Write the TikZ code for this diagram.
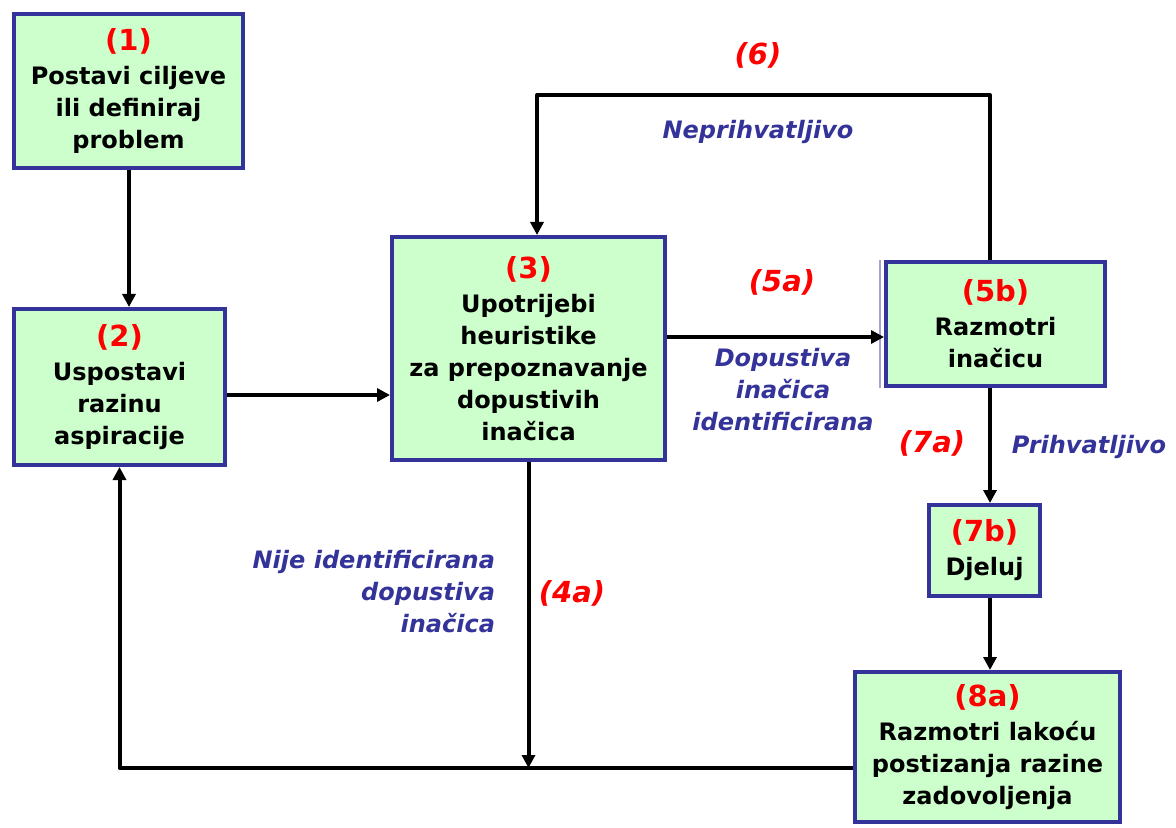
\documentclass[tikz,border=0pt]{standalone}
\usepackage{fontspec}
\setmainfont{DejaVu Sans}
\usetikzlibrary{arrows.meta,positioning,calc}
\definecolor{boxblue}{RGB}{51,51,153}
\definecolor{boxgreen}{RGB}{204,255,204}
\definecolor{numred}{RGB}{255,0,0}
\tikzset{
    flow/.style={-{Triangle[length=6.5pt, width=6.5pt]}, line width=2pt, line join=round},
    stepbox/.style={draw=boxblue, fill=boxgreen, line width=2pt, align=center, inner sep=0pt, font=\bfseries\fontsize{12}{16}\selectfont},
    edgelabel/.style={text=boxblue, align=center, font=\bfseries\itshape\fontsize{12}{16}\selectfont},
    numlabel/.style={text=numred, font=\bfseries\itshape\fontsize{14.5}{17}\selectfont}
}
\newcommand{\stepno}[1]{{\fontsize{14.5}{17}\selectfont\color{numred}#1}}

\begin{document}
\begin{tikzpicture}[x=0.5pt, y=-0.5pt]
    \useasboundingbox (0,0) rectangle (1176,828);

    \node[stepbox, minimum width=114.5pt, minimum height=77pt] (p1) at (128.5,91) {\stepno{(1)}\\[1pt] Postavi ciljeve\\ ili definiraj\\ problem};
    \node[stepbox, minimum width=105.5pt, minimum height=78pt] (p2) at (119.5,387) {\stepno{(2)}\\[1pt] Uspostavi\\ razinu\\ aspiracije};
    \node[stepbox, minimum width=136.5pt, minimum height=111.5pt] (p3) at (528.5,348.5) {\stepno{(3)}\\[1pt] Upotrijebi\\ heuristike\\ za prepoznavanje\\ dopustivih\\ inačica};
    \node[stepbox, minimum width=109.5pt, minimum height=62pt] (p5b) at (995.5,324) {\stepno{(5b)}\\[1pt] Razmotri\\ inačicu};
    \node[stepbox, minimum width=55.5pt, minimum height=45.5pt] (p7b) at (984.5,550.5) {\stepno{(7b)}\\[1pt] Djeluj};
    \node[stepbox, minimum width=132.5pt, minimum height=75pt] (p8a) at (987.5,747) {\stepno{(8a)}\\[1pt] Razmotri lakoću\\ postizanja razine\\ zadovoljenja};
    \draw[boxblue!45, line width=0.8pt] ([xshift=-2pt]p5b.north west) -- ([xshift=-2pt]p5b.south west);

    \node[numlabel] (l6) at (758,55) {(6)};
    \node[edgelabel] (lnep) at (758,132) {Neprihvatljivo};
    \node[numlabel] (l5a) at (782,282) {(5a)};
    \node[edgelabel] (ldop) at (783,390) {Dopustiva\\ inačica\\ identificirana};
    \node[numlabel] (l7a) at (932,443) {(7a)};
    \node[edgelabel] (lpri) at (1089,447) {Prihvatljivo};
    \node[edgelabel, align=right, anchor=east] (lnije) at (502,592) {Nije identificirana\\ dopustiva\\ inačica};
    \node[numlabel] (l4a) at (572,593) {(4a)};

    % bends and junctions
    \coordinate (h23) at (0,395);
    \coordinate (h35) at (0,337);
    \coordinate (t1) at (990,95);
    \coordinate (t2) at (537,95);
    \coordinate (back) at ([yshift=-10.5pt]p8a.west);

    \draw[flow] (p1.south -| 129,0) -- (p2.north -| 129,0);
    \draw[flow] (p2.east |- h23) -- (p3.west |- h23);
    \draw[flow] (p3.east |- h35) -- (p5b.west |- h35);
    \draw[flow] (p5b.north -| t1) -- (t1) -- (t2) -- (p3.north -| t2);
    \draw[flow] (p5b.south -| t1) -- (p7b.north -| t1);
    \draw[flow] (p7b.south -| t1) -- (p8a.north -| t1);
    \draw[flow] (back) -| (p2.south);
    \draw[flow] (p3.south) -- (p3.south |- back);
\end{tikzpicture}
\end{document}
